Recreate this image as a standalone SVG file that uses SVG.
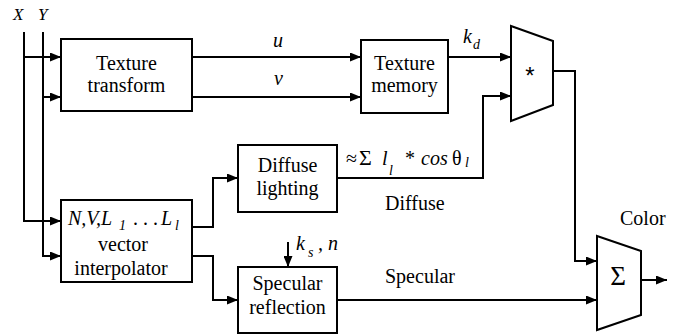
<svg xmlns="http://www.w3.org/2000/svg" width="684" height="335" viewBox="0 0 684 335">
<style>
.box{fill:#fff;stroke:#000;stroke-width:2}
.ln{fill:none;stroke:#000;stroke-width:2}
.c{text-anchor:middle}
.i{font-style:italic}
</style>
<defs>
<marker id="ah" markerUnits="userSpaceOnUse" markerWidth="11" markerHeight="9" refX="11" refY="4.5" orient="auto">
<path d="M0,0 L11,4.5 L0,9 z" fill="#000"/>
</marker>
</defs>
<g id="labels-xy">
<text class="i" font-family="Liberation Serif, serif" font-size="17" x="13" y="20">X</text>
<text class="i" font-family="Liberation Serif, serif" font-size="17" x="38" y="20">Y</text>
</g>
<g id="connectors">
<path class="ln" d="M24,32 V221 H61" marker-end="url(#ah)"/>
<path class="ln" d="M24,57 H61" marker-end="url(#ah)"/>
<path class="ln" d="M43,32 V256 H61" marker-end="url(#ah)"/>
<path class="ln" d="M43,97 H61" marker-end="url(#ah)"/>
<path class="ln" d="M192,57 H361" marker-end="url(#ah)"/>
<path class="ln" d="M192,97 H361" marker-end="url(#ah)"/>
<path class="ln" d="M448,57 H511" marker-end="url(#ah)"/>
<path class="ln" d="M192,227 H213 V178 H238" marker-end="url(#ah)"/>
<path class="ln" d="M192,256 H213 V300 H238" marker-end="url(#ah)"/>
<path class="ln" d="M337,178 H483 V96 H511" marker-end="url(#ah)"/>
<path class="ln" d="M553,71 H575 V261 H597" marker-end="url(#ah)"/>
<path class="ln" d="M337,300 H597" marker-end="url(#ah)"/>
<path class="ln" d="M288,242 V267" marker-end="url(#ah)"/>
<path class="ln" d="M641,280 H667" marker-end="url(#ah)"/>
<text class="i" font-family="Liberation Serif, serif" font-size="20" x="273" y="47">u</text>
<text class="i" font-family="Liberation Serif, serif" font-size="20" x="274" y="85">v</text>
<text class="i" font-family="Liberation Serif, serif" font-size="20" x="463" y="43">k<tspan font-size="14" x="473" y="49">d</tspan></text>
<text font-family="Liberation Serif, serif" font-size="20" x="346" y="165">≈<tspan x="359" font-size="22">Σ</tspan><tspan class="i" x="382">l</tspan><tspan class="i" font-size="14" x="389" y="175">l</tspan><tspan x="405" y="165">*</tspan><tspan class="i" x="421">cos</tspan><tspan x="452">θ</tspan><tspan class="i" font-size="14" x="465" y="167">l</tspan></text>
<text font-family="Liberation Serif, serif" font-size="20" x="385" y="210">Diffuse</text>
<text class="i" font-family="Liberation Serif, serif" font-size="20" x="296" y="250">k<tspan font-size="14" x="308" y="257">s</tspan><tspan x="318" y="250">, n</tspan></text>
<text font-family="Liberation Serif, serif" font-size="20" x="385" y="283">Specular</text>
<text font-family="Liberation Serif, serif" font-size="20" x="620" y="225">Color</text>
</g>
<g id="texture-transform">
<rect class="box" x="61" y="39" width="131" height="72"/>
<text class="c" font-family="Liberation Serif, serif" font-size="20" x="126.5" y="70">Texture</text>
<text class="c" font-family="Liberation Serif, serif" font-size="20" x="126.5" y="92">transform</text>
</g>
<g id="texture-memory">
<rect class="box" x="361" y="40" width="87" height="73"/>
<text class="c" font-family="Liberation Serif, serif" font-size="20" x="404.5" y="70">Texture</text>
<text class="c" font-family="Liberation Serif, serif" font-size="20" x="404.5" y="92">memory</text>
</g>
<g id="vector-interpolator">
<rect class="box" x="61" y="200" width="131" height="82"/>
<text class="i" font-family="Liberation Serif, serif" font-size="20" x="68" y="225">N,V,L<tspan font-size="14" x="119" y="230">1</tspan><tspan x="133" y="225" font-style="normal">. . .</tspan><tspan x="161">L</tspan><tspan font-size="14" x="175" y="230">l</tspan></text>
<text class="c" font-family="Liberation Serif, serif" font-size="20" x="123" y="251">vector</text>
<text class="c" font-family="Liberation Serif, serif" font-size="20" x="121" y="275">interpolator</text>
</g>
<g id="diffuse-lighting">
<rect class="box" x="238" y="145" width="99" height="67"/>
<text class="c" font-family="Liberation Serif, serif" font-size="20" x="287.5" y="172">Diffuse</text>
<text class="c" font-family="Liberation Serif, serif" font-size="20" x="287.5" y="195">lighting</text>
</g>
<g id="specular-reflection">
<rect class="box" x="238" y="267" width="99" height="66"/>
<text class="c" font-family="Liberation Serif, serif" font-size="20" x="287.5" y="290">Specular</text>
<text class="c" font-family="Liberation Serif, serif" font-size="20" x="287.5" y="314">reflection</text>
</g>
<g id="multiplier">
<polygon class="box" points="511,26 553,41 553,105 511,121"/>
<text class="c" font-family="Liberation Sans, sans-serif" font-size="24" x="530" y="84">*</text>
</g>
<g id="sum">
<polygon class="box" points="597,236 641,251 641,315 597,330"/>
<text class="c" font-family="Liberation Serif, serif" font-size="27" x="618" y="285">Σ</text>
</g>
</svg>
